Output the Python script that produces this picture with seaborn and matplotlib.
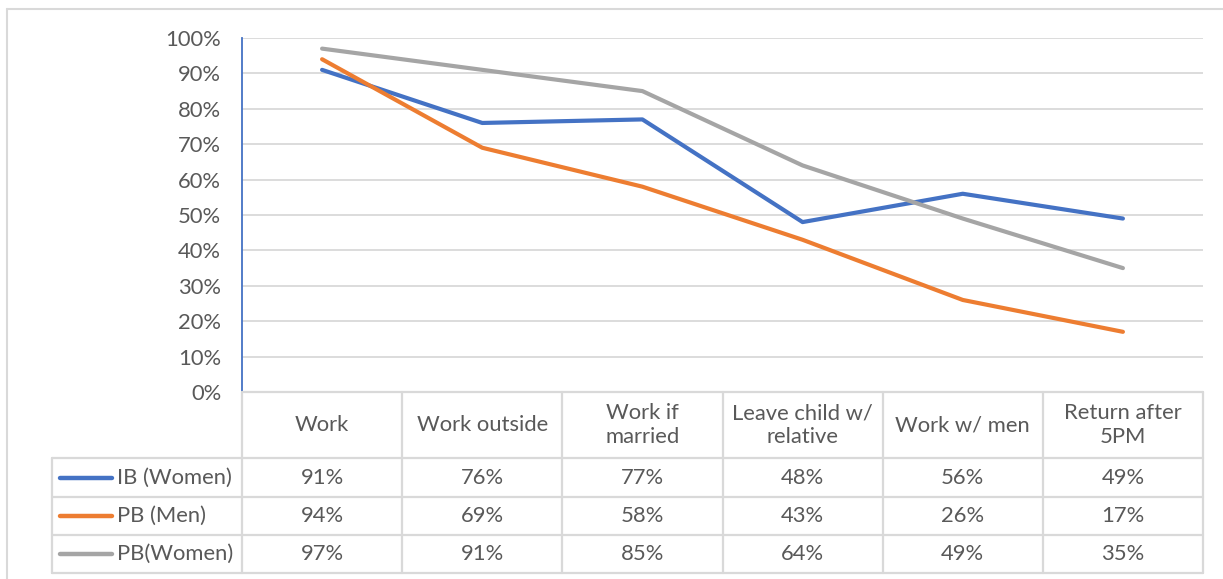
import matplotlib
matplotlib.use("Agg")
import matplotlib.pyplot as plt
from matplotlib.lines import Line2D
import seaborn as sns
import pandas as pd

categories = ["Work", "Work outside", "Work if\nmarried", "Leave child w/\nrelative",
              "Work w/ men", "Return after\n5PM"]
series_names = ["IB (Women)", "PB (Men)", "PB(Women)"]
ib_women = [91, 76, 77, 48, 56, 49]
pb_men = [94, 69, 58, 43, 26, 17]
pb_women = [97, 91, 85, 64, 49, 35]
y_ticks = [0, 10, 20, 30, 40, 50, 60, 70, 80, 90, 100]

colors = ["#4472C4", "#ED7D31", "#A5A5A5"]
text_color = "#595959"
grid_color = "#D9D9D9"
fs = 15.8

sns.set_theme(style="white")
plt.rcParams["font.family"] = ["Lato", "DejaVu Sans"]

W, H = 1223, 579
fig = plt.figure(figsize=(W / 100, H / 100), dpi=100)

def fx(px):
    return px / W

def fy(py):
    return 1 - py / H

# plot area
left, right, top, bottom = 242, 1203, 38, 392
ax = fig.add_axes([fx(left), fy(bottom), fx(right) - fx(left), fy(top) - fy(bottom)])

values = [ib_women, pb_men, pb_women]
rows = []
for name, vals in zip(series_names, values):
    for i, v in enumerate(vals):
        rows.append({"pos": i, "value": v, "series": name})
df = pd.DataFrame(rows)

sns.lineplot(data=df, x="pos", y="value", hue="series", hue_order=series_names,
             palette=colors, linewidth=3.0, legend=False, sort=False, ax=ax,
             zorder=3)
for line in ax.lines:
    line.set_solid_capstyle("round")
    line.set_solid_joinstyle("round")

ax.set_xlim(-0.5, len(categories) - 0.5)
ax.set_ylim(0, 100)
ax.set_yticks(y_ticks)
ax.set_yticklabels([f"{t}%" for t in y_ticks], color=text_color, fontsize=fs)
ax.tick_params(axis="y", length=0, pad=15)
ax.set_xticks([])
ax.set_xlabel("")
ax.set_ylabel("")
for t in y_ticks[1:]:
    ax.axhline(t, color=grid_color, linewidth=1.3, zorder=1)
for s in ["top", "right", "bottom"]:
    ax.spines[s].set_visible(False)
ax.spines["left"].set_color("#4472C4")
ax.spines["left"].set_linewidth(1.3)

# data table below the plot area
tbl_left = 52
row_lines = [392, 458, 497, 535, 573]
col_w = (right - left) / len(categories)
col_edges = [left + i * col_w for i in range(len(categories) + 1)]
lw_tbl = 1.6

def hline(x0, x1, y):
    fig.add_artist(Line2D([fx(x0), fx(x1)], [fy(y), fy(y)], color=grid_color,
                          linewidth=lw_tbl, transform=fig.transFigure))

def vline(x, y0, y1):
    fig.add_artist(Line2D([fx(x), fx(x)], [fy(y0), fy(y1)], color=grid_color,
                          linewidth=lw_tbl, transform=fig.transFigure))

hline(left, right, row_lines[0])
for y in row_lines[1:]:
    hline(tbl_left, right, y)
for x in col_edges:
    vline(x, row_lines[0], row_lines[-1])
vline(tbl_left, row_lines[1], row_lines[-1])

# header labels
hdr_y = (row_lines[0] + row_lines[1]) / 2
for i, cat in enumerate(categories):
    cx = (col_edges[i] + col_edges[i + 1]) / 2
    fig.text(fx(cx), fy(hdr_y), cat, ha="center", va="center", color=text_color,
             fontsize=fs, linespacing=1.25)

# series rows with legend keys
for r, (name, vals, c) in enumerate(zip(series_names, values, colors)):
    cy = (row_lines[r + 1] + row_lines[r + 2]) / 2
    fig.add_artist(Line2D([fx(60), fx(112)], [fy(cy), fy(cy)], color=c,
                          linewidth=3.2, solid_capstyle="round",
                          transform=fig.transFigure))
    fig.text(fx(117), fy(cy), name, ha="left", va="center", color=text_color,
             fontsize=fs)
    for i, v in enumerate(vals):
        cx = (col_edges[i] + col_edges[i + 1]) / 2
        fig.text(fx(cx), fy(cy), f"{v}%", ha="center", va="center",
                 color=text_color, fontsize=fs)

# chart frame
fig.add_artist(Line2D([fx(7), fx(W)], [fy(8.5), fy(8.5)], color=grid_color,
                      linewidth=1.5, transform=fig.transFigure))
fig.add_artist(Line2D([fx(7), fx(7)], [fy(8.5), fy(H)], color=grid_color,
                      linewidth=1.5, transform=fig.transFigure))

fig.savefig("out.png", dpi=100, facecolor="white")
